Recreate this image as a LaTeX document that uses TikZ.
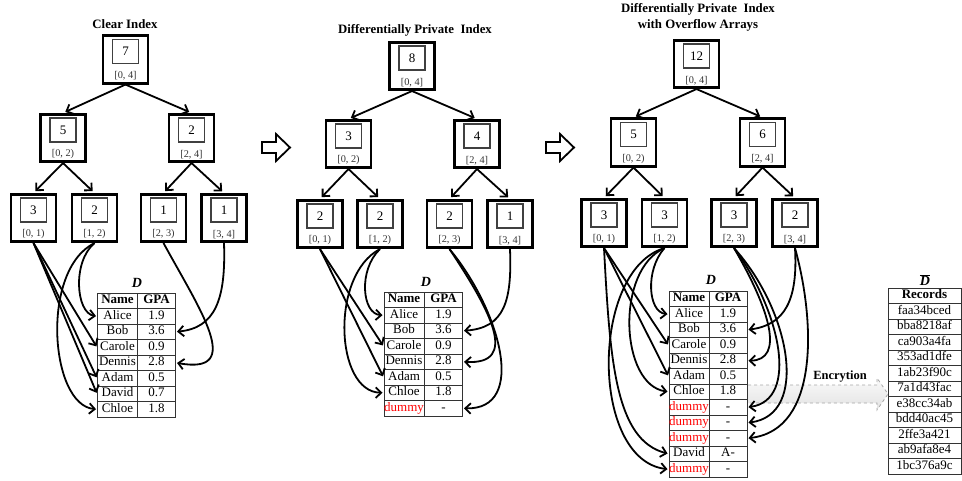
\documentclass[tikz,border=0pt]{standalone}
\usepackage{fontspec}
\setmainfont{Liberation Serif}
\usetikzlibrary{arrows.meta}

\tikzset{
  idxbox/.style={draw, line width=2.6pt, minimum width=45pt, minimum height=47.5pt, inner sep=0pt},
  cntbox/.style={draw=black!75, line width=1.2pt, minimum width=26pt, minimum height=24pt, inner sep=0pt, font=\fontsize{13}{13}\selectfont},
  rangelbl/.style={inner sep=0pt, text=black!80, font=\fontsize{10.3}{10.3}\selectfont},
  link/.style={line width=1.8pt, shorten >=1pt, -{Straight Barb[length=5.5pt,width=10.5pt]}},
  treelink/.style={link, shorten >=2.5pt},
  cell/.style={draw=black!80, line width=1pt, minimum height=15.5pt, inner sep=0pt, text height=8.8pt, text depth=2.6pt, font=\fontsize{13}{13}\selectfont},
  namecell/.style={cell, minimum width=40pt},
  gpacell/.style={cell, minimum width=38pt},
  reccell/.style={cell, minimum width=73pt},
  headcell/.style={font=\bfseries\fontsize{13}{13}\selectfont},
  tbltitle/.style={inner sep=0pt, font=\bfseries\itshape\fontsize{14}{14}\selectfont},
  paneltitle/.style={inner sep=0pt, align=center, font=\bfseries\fontsize{12.8}{16}\selectfont},
  bigarrow/.style={draw, line width=1.8pt, fill=white, line join=miter},
}

% one node of an index tree: name, x, y, count, range
\newcommand{\idxnode}[5]{%
  \node[idxbox] (#1) at (#2,#3) {};
  \node[cntbox] (#1n) at (#2,#3-8) {#4};
  \node[rangelbl] (#1r) at (#2,#3+16.5) {#5};
}

\begin{document}
\begin{tikzpicture}[x=1pt,y=-1pt]
  \useasboundingbox (0,0) rectangle (962,480);

  % clear index
  \node[paneltitle] (ttl1) at (125,24) {Clear Index};
  \idxnode{c04}{125.5}{59.5}{7}{[0, 4]}
  \idxnode{c02}{63}{138}{5}{[0, 2)}
  \idxnode{c24}{191.5}{138}{2}{[2, 4]}
  \idxnode{c01}{33.5}{218}{3}{[0, 1)}
  \idxnode{c12}{94.5}{218}{2}{[1, 2)}
  \idxnode{c23}{163.5}{218}{1}{[2, 3)}
  \idxnode{c34}{224}{218}{1}{[3, 4]}
  \draw[treelink] (c04.south) -- (c02.north);
  \draw[treelink] (c04.south) -- (c24.north);
  \draw[treelink] (c02.south) -- (c01.north);
  \draw[treelink] (c02.south) -- (c12.north);
  \draw[treelink] (c24.south) -- (c23.north);
  \draw[treelink] (c24.south) -- (c34.north);

  \node[tbltitle] (cD) at (137,283) {D};
  \node[namecell,headcell] (cN0) at (117.5,300.75) {Name};
  \node[gpacell,headcell] (cG0) at (156.5,300.75) {GPA};
  \foreach \nm/\gp [count=\i] in {Alice/1.9, Bob/3.6, Carole/0.9, Dennis/2.8, Adam/0.5, David/0.7, Chloe/1.8} {
    \node[namecell] (cN\i) at (117.5,300.75+15.5*\i) {\nm};
    \node[gpacell] (cG\i) at (156.5,300.75+15.5*\i) {\gp};
  }
  \draw[link] (c01.south) -- (cN3.west);
  \draw[link] (c01.south) -- (cN5.west);
  \draw[link] (c01.south) -- (cN6.west);
  \draw[link] (c12.south) .. controls (72,262) and (76,313) .. (cN1.west);
  \draw[link] (c12.south) .. controls (40,270) and (50,405) .. (cN7.west);
  \draw[link] (c23.south) .. controls (200,310) and (245,375) .. (cG4.east);
  \draw[link] (c34.south) .. controls (226,300) and (215,328) .. (cG2.east);

  \draw[bigarrow] (262,142) -- (276,142) -- (276,134) -- (290,147.5) -- (276,161) -- (276,153) -- (262,153) -- cycle;

  % differentially private index
  \node[paneltitle] (ttl2) at (415,30) {Differentially Private\ \ Index};
  \idxnode{p04}{412}{66}{8}{[0, 4]}
  \idxnode{p02}{348.5}{144}{3}{[0, 2)}
  \idxnode{p24}{477}{144}{4}{[2, 4]}
  \idxnode{p01}{320}{224}{2}{[0, 1)}
  \idxnode{p12}{380}{224}{2}{[1, 2)}
  \idxnode{p23}{449.5}{224}{2}{[2, 3)}
  \idxnode{p34}{510}{224}{1}{[3, 4]}
  \draw[treelink] (p04.south) -- (p02.north);
  \draw[treelink] (p04.south) -- (p24.north);
  \draw[treelink] (p02.south) -- (p01.north);
  \draw[treelink] (p02.south) -- (p12.north);
  \draw[treelink] (p24.south) -- (p23.north);
  \draw[treelink] (p24.south) -- (p34.north);

  \node[tbltitle] (pD) at (426,282) {D};
  \node[namecell,headcell] (pN0) at (404,299.75) {Name};
  \node[gpacell,headcell] (pG0) at (443.5,299.75) {GPA};
  \foreach \nm/\gp/\cl [count=\i] in {Alice/1.9/black, Bob/3.6/black, Carole/0.9/black, Dennis/2.8/black, Adam/0.5/black, Chloe/1.8/black, dummy/-/red} {
    \node[namecell, text=\cl] (pN\i) at (404,299.75+15.5*\i) {\nm};
    \node[gpacell] (pG\i) at (443.5,299.75+15.5*\i) {\gp};
  }
  \draw[link] (p01.south) -- (pN3.west);
  \draw[link] (p01.south) -- (pN5.west);
  \draw[link] (p12.south) .. controls (358,270) and (362,314) .. (pN1.west);
  \draw[link] (p12.south) .. controls (330,275) and (335,392) .. (pN6.west);
  \draw[link] (p23.south) .. controls (490,310) and (520,365) .. (pG4.east);
  \draw[link] (p23.south) .. controls (500,310) and (528,410) .. (pG7.east);
  \draw[link] (p34.south) .. controls (512,300) and (505,328) .. (pG2.east);

  \draw[bigarrow] (546,142) -- (560,142) -- (560,134) -- (574,147.5) -- (560,161) -- (560,153) -- (546,153) -- cycle;

  % with overflow arrays
  \node[paneltitle] (ttl3) at (698,17) {Differentially Private\ \ Index\\with Overflow Arrays};
  \idxnode{o04}{696.5}{64}{12}{[0, 4]}
  \idxnode{o02}{633.5}{142.5}{5}{[0, 2)}
  \idxnode{o24}{762.5}{142.5}{6}{[2, 4]}
  \idxnode{o01}{604}{223}{3}{[0, 1)}
  \idxnode{o12}{664.5}{223}{3}{[1, 2)}
  \idxnode{o23}{734}{223}{3}{[2, 3)}
  \idxnode{o34}{795}{223}{2}{[3, 4]}
  \draw[treelink] (o04.south) -- (o02.north);
  \draw[treelink] (o04.south) -- (o24.north);
  \draw[treelink] (o02.south) -- (o01.north);
  \draw[treelink] (o02.south) -- (o12.north);
  \draw[treelink] (o24.south) -- (o23.north);
  \draw[treelink] (o24.south) -- (o34.north);

  % encryption arrow, under the tables
  \shadedraw[draw=gray!70, dashed, line width=0.8pt, top color=gray!4, bottom color=gray!22]
    (748,385) -- (877,385) -- (877,378) -- (888,394) -- (877,410) -- (877,403) -- (748,403);
  \node[font=\bfseries\fontsize{12.5}{12.5}\selectfont] (enc) at (840,377) {Encrytion};

  \node[tbltitle] (oD) at (711,280) {D};
  \node[namecell,headcell] (oN0) at (689,298.75) {Name};
  \node[gpacell,headcell] (oG0) at (728,298.75) {GPA};
  \foreach \nm/\gp/\cl [count=\i] in {Alice/1.9/black, Bob/3.6/black, Carole/0.9/black, Dennis/2.8/black, Adam/0.5/black, Chloe/1.8/black, dummy/-/red, dummy/-/red, dummy/-/red, David/A-/black, dummy/-/red} {
    \node[namecell, text=\cl] (oN\i) at (689,298.75+15.5*\i) {\nm};
    \node[gpacell] (oG\i) at (728,298.75+15.5*\i) {\gp};
  }
  \draw[link] (o01.south) -- (oN3.west);
  \draw[link] (o01.south) -- (oN5.west);
  \draw[link] (o01.south) .. controls (610,360) and (615,440) .. (oN10.west);
  \draw[link] (o12.south) .. controls (645,270) and (648,312) .. (oN1.west);
  \draw[link] (o12.south) .. controls (615,270) and (620,385) .. (oN6.west);
  \draw[link] (o12.south) .. controls (590,270) and (590,460) .. (oN11.west);
  \draw[link] (o23.south) .. controls (770,310) and (785,360) .. (oG4.east);
  \draw[link] (o23.south) .. controls (780,310) and (800,400) .. (oG7.east);
  \draw[link] (o23.south) .. controls (790,310) and (810,415) .. (oG8.east);
  \draw[link] (o34.south) .. controls (798,300) and (785,325) .. (oG2.east);
  \draw[link] (o34.south) .. controls (815,320) and (820,430) .. (oG9.east);

  % encrypted records
  \node[tbltitle] (eD) at (925,280) {$\overline{\mbox{\textbf{\textit{D}}}}$};
  \node[reccell,headcell] (eR0) at (924.5,295.75) {Records};
  \foreach \rc [count=\i] in {faa34bced, bba8218af, ca903a4fa, 353ad1dfe, 1ab23f90c, 7a1d43fac, e38cc34ab, bdd40ac45, 2ffe3a421, ab9afa8e4, 1bc376a9c}
    \node[reccell] (eR\i) at (924.5,295.75+15.5*\i) {\rc};
\end{tikzpicture}
\end{document}
